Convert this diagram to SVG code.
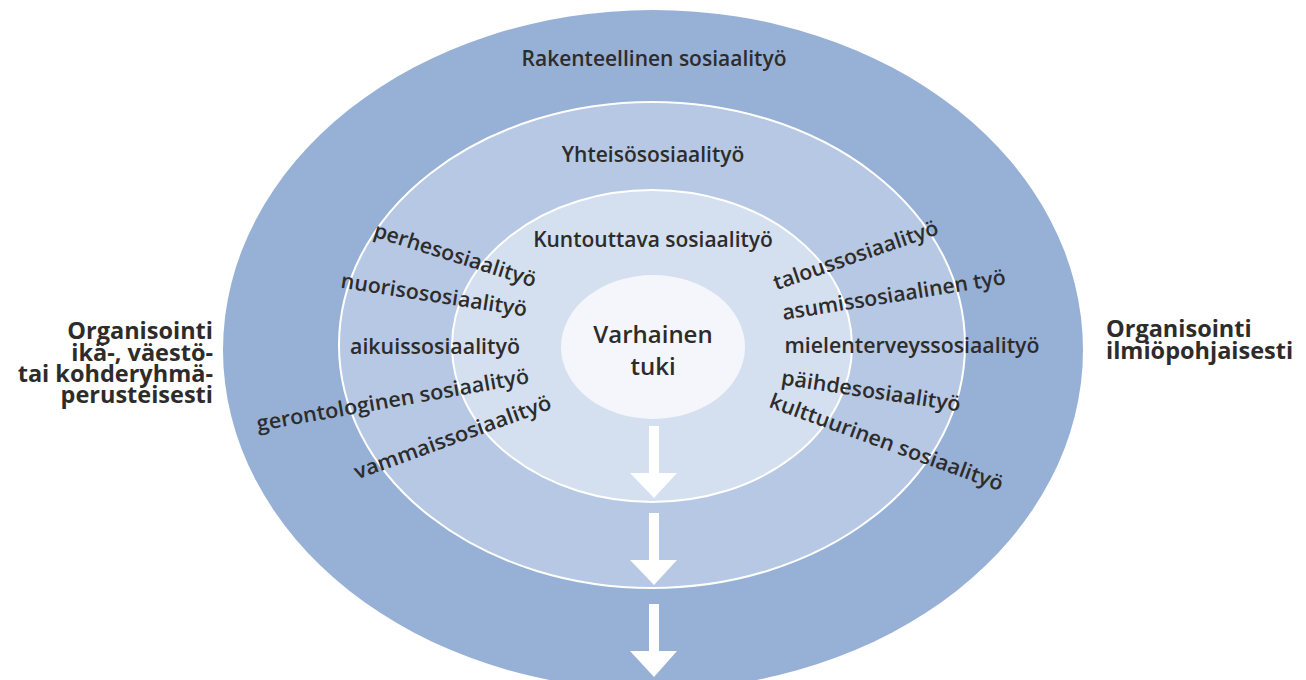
<svg xmlns="http://www.w3.org/2000/svg" width="1306" height="680" viewBox="0 0 1306 680">
<style>
.t{font-family:"Open Sans","Liberation Sans",sans-serif;font-weight:600;fill:#2e2c2b;}
.lbl{font-size:21px;text-anchor:middle;}
.ttl{font-size:21px;text-anchor:middle;}
.side{font-family:"Open Sans","Liberation Sans",sans-serif;font-weight:700;font-size:23.5px;fill:#2e2c2b;}
.arrow{fill:#ffffff;}
</style>
<rect width="1306" height="680" fill="#ffffff"/>
<g id="rakenteellinen">
<ellipse cx="653" cy="350" rx="430" ry="340" fill="#97b1d6"/>
<text class="t ttl" x="654" y="66">Rakenteellinen sosiaalityö</text>
</g>
<g id="yhteiso">
<ellipse cx="652" cy="345" rx="313" ry="243" fill="#b6c8e3" stroke="#ffffff" stroke-width="2"/>
<text class="t ttl" x="653" y="162">Yhteisösosiaalityö</text>
</g>
<g id="kuntouttava">
<ellipse cx="652" cy="346" rx="200" ry="156" fill="#d4e0ef" stroke="#ffffff" stroke-width="2"/>
<text class="t ttl" x="653" y="247">Kuntouttava sosiaalityö</text>
</g>
<g id="varhainen">
<ellipse cx="653" cy="347" rx="92" ry="72" fill="#f4f6fb"/>
<text class="t" x="653" y="343" font-size="24" text-anchor="middle">Varhainen</text>
<text class="t" x="653" y="375" font-size="24" text-anchor="middle">tuki</text>
</g>
<g id="vasen-tyypit">
<text class="t lbl" transform="translate(453,262) rotate(17.5)" textLength="169" lengthAdjust="spacingAndGlyphs">perhesosiaalityö</text>
<text class="t lbl" transform="translate(433,302) rotate(8.8)" textLength="188" lengthAdjust="spacingAndGlyphs">nuorisososiaalityö</text>
<text class="t lbl" x="435" y="354" textLength="170" lengthAdjust="spacingAndGlyphs">aikuissosiaalityö</text>
<text class="t lbl" transform="translate(394,407) rotate(-10)" textLength="276" lengthAdjust="spacingAndGlyphs">gerontologinen sosiaalityö</text>
<text class="t lbl" transform="translate(455,444) rotate(-20)" textLength="208" lengthAdjust="spacingAndGlyphs">vammaissosiaalityö</text>
</g>
<g id="oikea-tyypit">
<text class="t lbl" transform="translate(858,262) rotate(-19)" textLength="173" lengthAdjust="spacingAndGlyphs">taloussosiaalityö</text>
<text class="t lbl" transform="translate(895,302) rotate(-9.2)" textLength="226" lengthAdjust="spacingAndGlyphs">asumissosiaalinen työ</text>
<text class="t lbl" x="912" y="353" textLength="255" lengthAdjust="spacingAndGlyphs">mielenterveyssosiaalityö</text>
<text class="t lbl" transform="translate(870,398) rotate(8.5)" textLength="181" lengthAdjust="spacingAndGlyphs">päihdesosiaalityö</text>
<text class="t lbl" transform="translate(884,449) rotate(20)" textLength="247" lengthAdjust="spacingAndGlyphs">kulttuurinen sosiaalityö</text>
</g>
<g id="vasen-otsikko">
<text class="side" text-anchor="end" x="213" y="339">Organisointi</text>
<text class="side" text-anchor="end" x="213" y="360.5">ikä-, väestö-</text>
<text class="side" text-anchor="end" x="213" y="382">tai kohderyhmä-</text>
<text class="side" text-anchor="end" x="213" y="403">perusteisesti</text>
</g>
<g id="oikea-otsikko">
<text class="side" x="1106" y="337">Organisointi</text>
<text class="side" x="1106" y="358.5">ilmiöpohjaisesti</text>
</g>
<g id="connectors">
<path class="arrow" d="M649,426 H659 V473 H677 L654,498 L630,473 H649 Z"/>
<path class="arrow" d="M649,513 H659 V560 H677 L654,585 L630,560 H649 Z"/>
<path class="arrow" d="M649,604 H659 V651 H677 L654,677 L630,651 H649 Z"/>
</g>
</svg>
